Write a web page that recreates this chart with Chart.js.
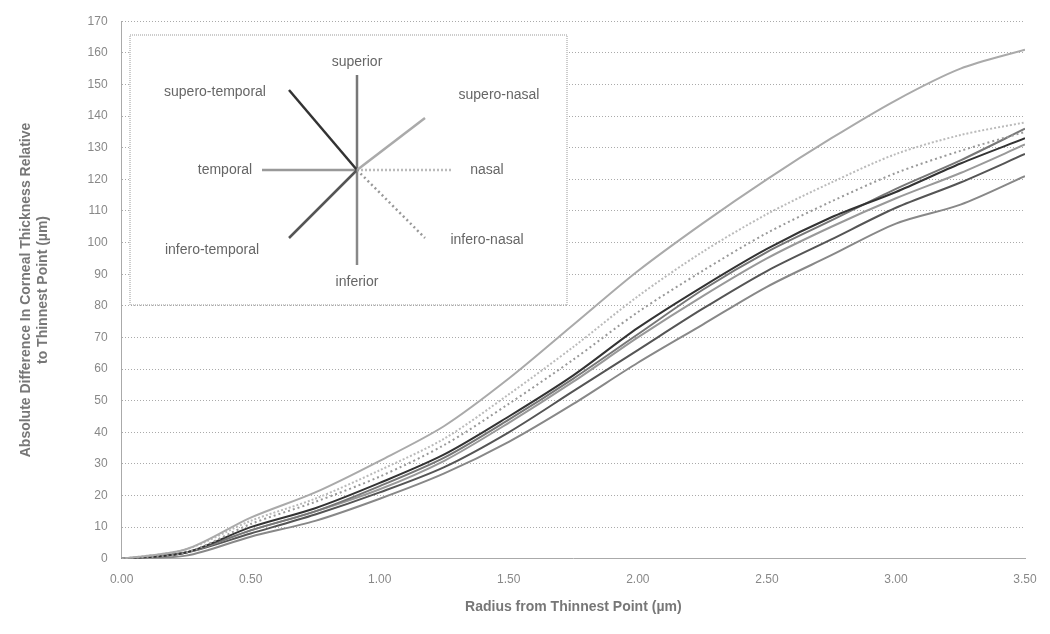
<!DOCTYPE html>
<html>
<head>
<meta charset="utf-8">
<script src="https://cdn.jsdelivr.net/npm/chart.js@4"></script>
<style>
  body { margin: 0; background: #fff; }
  #wrap { width: 1050px; height: 634px; }
</style>
</head>
<body>
<div id="wrap"><canvas id="chart" width="1050" height="634"></canvas></div>
<script>
// radius from thinnest point
const radius = [0, 0.25, 0.5, 0.75, 1.0, 1.25, 1.5, 1.75, 2.0, 2.25, 2.5, 2.75, 3.0, 3.25, 3.5];

// absolute thickness difference per meridian (um)
const superoNasal    = [0, 3, 13, 21, 31, 42, 57, 74, 91, 106, 120, 133, 145, 155, 161];
const nasal          = [0, 3, 12, 19, 28, 38, 52, 67, 83, 97, 109, 119, 128, 134, 138];
const inferoNasal    = [0, 2, 11, 18, 26, 36, 49, 63, 78, 91, 103, 113, 122, 129, 135];
const superoTemporal = [0, 2, 10, 16, 24, 33, 45, 58, 73, 86, 98, 108, 116, 125, 133];
const superior       = [0, 2, 9, 15, 23, 32, 44, 57, 71, 85, 97, 107, 117, 126, 136];
const temporal       = [0, 2, 9, 15, 22, 31, 43, 56, 70, 83, 95, 105, 114, 122, 131];
const inferoTemporal = [0, 2, 8, 14, 21, 29, 40, 53, 66, 79, 91, 101, 111, 119, 128];
const inferior       = [0, 1, 7, 12, 19, 27, 37, 49, 62, 74, 86, 96, 106, 112, 121];

const series = [
  { name: 'supero-nasal', data: superoNasal, color: '#aaa', dash: [] },
  { name: 'nasal', data: nasal, color: '#bbb', dash: [2, 2] },
  { name: 'infero-nasal', data: inferoNasal, color: '#999', dash: [2, 3] },
  { name: 'supero-temporal', data: superoTemporal, color: '#333', dash: [] },
  { name: 'superior', data: superior, color: '#777', dash: [] },
  { name: 'temporal', data: temporal, color: '#999', dash: [] },
  { name: 'infero-temporal', data: inferoTemporal, color: '#555', dash: [] },
  { name: 'inferior', data: inferior, color: '#888', dash: [] }
];

// inset compass legend
const compass = {
  id: 'compass',
  afterDraw(chart) {
    const c = chart.ctx;
    const L = 130, T = 35, W = 437, H = 270;
    c.save();
    c.fillStyle = '#fff';
    c.fillRect(L, T, W, H);
    c.strokeStyle = '#999';
    c.setLineDash([1, 1]);
    c.strokeRect(L, T, W, H);
    const cx = 357, cy = 170;
    const arms = [
      ['superior', 0, -95, '#777', [], 0, -108],
      ['inferior', 0, 95, '#888', [], 0, 112],
      ['temporal', -95, 0, '#999', [], -132, 0],
      ['nasal', 95, 0, '#bbb', [2, 2], 130, 0],
      ['supero-temporal', -68, -80, '#333', [], -142, -78],
      ['infero-temporal', -68, 68, '#555', [], -145, 80],
      ['supero-nasal', 68, -52, '#aaa', [], 142, -75],
      ['infero-nasal', 68, 68, '#999', [2, 3], 130, 70]
    ];
    c.font = '14px "Liberation Sans", Arial';
    c.textAlign = 'center';
    c.textBaseline = 'middle';
    arms.forEach(a => {
      c.strokeStyle = a[3];
      c.lineWidth = 2.5;
      c.setLineDash(a[4]);
      c.beginPath();
      c.moveTo(cx, cy);
      c.lineTo(cx + a[1], cy + a[2]);
      c.stroke();
      c.fillStyle = '#666';
      c.fillText(a[0], cx + a[5], cy + a[6]);
    });
    c.restore();
  }
};

new Chart(document.getElementById('chart'), {
  type: 'line',
  data: {
    datasets: series.map(s => ({
      label: s.name,
      data: radius.map((r, i) => ({ x: r, y: s.data[i] })),
      borderColor: s.color,
      borderDash: s.dash,
      borderWidth: 2,
      pointRadius: 0,
      tension: 0.3,
      fill: false
    }))
  },
  options: {
    responsive: false,
    animation: false,
    layout: { padding: { top: 12, right: 25, left: 14, bottom: 14 } },
    plugins: { legend: { display: false }, tooltip: { enabled: false } },
    scales: {
      x: {
        type: 'linear', min: 0, max: 3.5,
        ticks: { stepSize: 0.5, color: '#888', font: { size: 12 }, padding: 6, callback: v => v.toFixed(2) },
        grid: { display: false },
        border: { color: '#aaa', dash: [1, 2] },
        title: { display: true, text: 'Radius from Thinnest Point (µm)', color: '#777', padding: { top: 6 }, font: { size: 14, weight: 'bold' } }
      },
      y: {
        min: 0, max: 170,
        ticks: { stepSize: 10, color: '#888', font: { size: 12 }, padding: 14 },
        grid: { color: '#aaa', tickLength: 0 },
        border: { color: '#aaa', dash: [1, 2] },
        title: { display: true, text: ['Absolute Difference In Corneal Thickness Relative', 'to Thinnest Point (µm)'], color: '#777', padding: { bottom: 22 }, font: { size: 14, weight: 'bold' } }
      }
    }
  },
  plugins: [compass]
});
</script>
</body>
</html>
